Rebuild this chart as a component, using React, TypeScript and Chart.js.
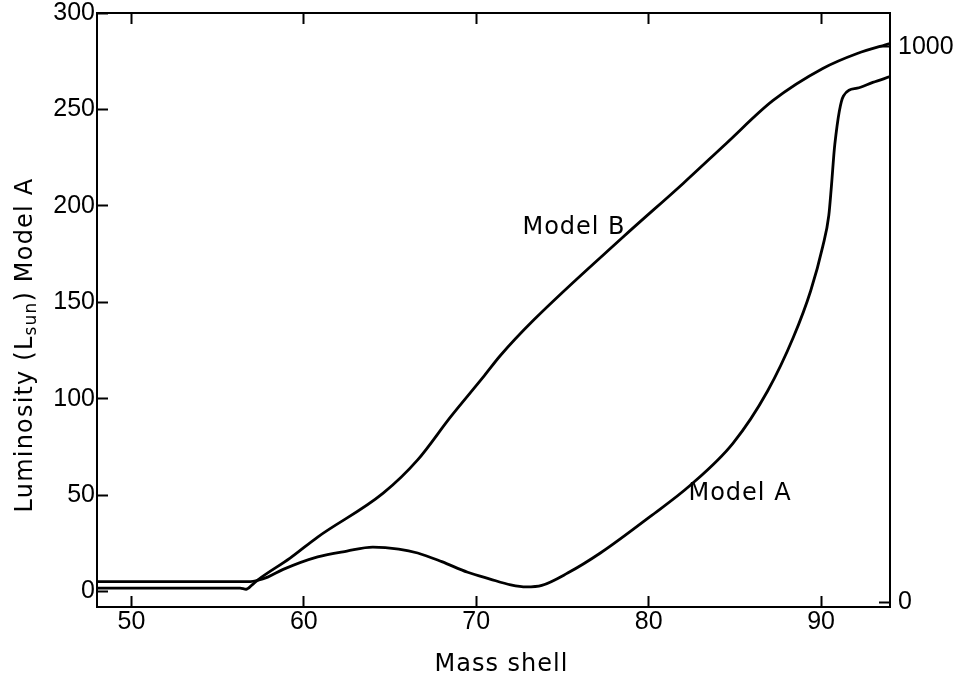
import React, { useEffect, useRef } from "react";
import { Chart, registerables } from "chart.js";

Chart.register(...registerables);

// ---- data ----
const X_TICKS = [50, 60, 70, 80, 90];
const Y_LEFT_TICKS = [0, 50, 100, 150, 200, 250, 300];
const Y_RIGHT_TICKS = [0, 1000];

const MODEL_A_X = [48, 56.9, 57.3, 57.9, 58.8, 60.8, 62.5, 64.0, 65.5, 66.6, 68.0, 69.5, 70.8, 72.0, 72.9, 73.8, 75.3, 77.2, 80.1, 82.4, 84.9, 86.9, 88.4, 89.4, 90.1, 90.45, 90.6, 90.8, 91.3, 92.1, 93.0, 94.0];
const MODEL_A_Y = [5.2, 5.2, 5.8, 7.5, 11.5, 18, 21, 23, 22, 20, 15.5, 10, 6.5, 3.5, 2.4, 3.2, 9.6, 20, 39, 55, 77, 104, 132, 156, 179, 195, 210, 232, 257, 261, 264, 267];

const MODEL_B_X = [48, 56.3, 56.65, 57.0, 57.34, 59.2, 60.8, 64.6, 66.6, 68.5, 70.4, 71.4, 73.3, 78.5, 82.0, 84.5, 87.2, 90.1, 92.1, 94.0];
const MODEL_B_Y = [25, 25, 23, 31, 40, 79, 117, 196, 256, 333, 405, 444, 507, 657, 754, 826, 903, 961, 988, 1006];

const X_TITLE = "Mass shell";
const Y_TITLE_PARTS = ["Luminosity (L", "sun", ") Model A"];
const LABEL_A = { text: "Model A", x: 85.3, y: 50.6 };
const LABEL_B = { text: "Model B", x: 75.67, y: 188.5 };

const TEXT_FONT = "DejaVu Sans";
const TICK_FONT = "Liberation Sans";

const textPlugin = {
  id: "texts",
  afterDraw(chart: any) {
    const ctx = chart.ctx as CanvasRenderingContext2D;
    const area = chart.chartArea;
    const xs = chart.scales.x;
    const ys = chart.scales.y;
    ctx.save();
    ctx.fillStyle = "#000";
    (ctx as any).letterSpacing = "1px";
    ctx.font = `24px "${TEXT_FONT}"`;
    ctx.textAlign = "center";
    ctx.textBaseline = "middle";
    for (const l of [LABEL_A, LABEL_B]) {
      ctx.fillText(l.text, xs.getPixelForValue(l.x), ys.getPixelForValue(l.y));
    }
    // x title
    ctx.fillText(X_TITLE, (area.left + area.right) / 2 + 8, area.bottom + 58);
    // y title (rotated, with subscript)
    (ctx as any).letterSpacing = "1.2px";
    ctx.translate(32, (area.top + area.bottom) / 2 + 35);
    ctx.rotate(-Math.PI / 2);
    ctx.textAlign = "left";
    ctx.textBaseline = "alphabetic";
    const mainFont = `24px "${TEXT_FONT}"`;
    const subFont = `17px "${TEXT_FONT}"`;
    ctx.font = mainFont;
    const w0 = ctx.measureText(Y_TITLE_PARTS[0]).width;
    const w2 = ctx.measureText(Y_TITLE_PARTS[2]).width;
    ctx.font = subFont;
    const w1 = ctx.measureText(Y_TITLE_PARTS[1]).width;
    let x = -(w0 + w1 + w2) / 2;
    ctx.font = mainFont;
    ctx.fillText(Y_TITLE_PARTS[0], x, 0);
    x += w0;
    ctx.font = subFont;
    ctx.fillText(Y_TITLE_PARTS[1], x, 4);
    x += w1;
    ctx.font = mainFont;
    ctx.fillText(Y_TITLE_PARTS[2], x, 0);
    ctx.restore();
  },
};

const zeroPad = (s: any) => {
  s.paddingTop = 0;
  s.paddingBottom = 0;
  s.paddingLeft = 0;
  s.paddingRight = 0;
};

export default function App() {
  const ref = useRef<HTMLCanvasElement | null>(null);
  useEffect(() => {
    document.body.style.margin = "0";
    const canvas = ref.current;
    if (!canvas) return;
    const tickFont = { family: TICK_FONT, size: 25 };
    const gridCommon = {
      display: true,
      drawOnChartArea: false,
      drawTicks: true,
      tickLength: -11,
      tickWidth: 2,
      tickColor: "#000",
    };
    const border = { display: true, color: "#000", width: 2 };
    const chart = new Chart(canvas, {
      type: "line",
      data: {
        datasets: [
          {
            label: "Model A",
            data: MODEL_A_X.map((x, i) => ({ x, y: MODEL_A_Y[i] })),
            yAxisID: "y",
            xAxisID: "x",
            borderColor: "#000",
            borderWidth: 2.8,
            pointRadius: 0,
            fill: false,
            cubicInterpolationMode: "monotone",
          },
          {
            label: "Model B",
            data: MODEL_B_X.map((x, i) => ({ x, y: MODEL_B_Y[i] })),
            yAxisID: "y1",
            xAxisID: "x",
            borderColor: "#000",
            borderWidth: 2.8,
            pointRadius: 0,
            fill: false,
            cubicInterpolationMode: "monotone",
          },
        ],
      },
      options: {
        animation: false,
        responsive: false,
        layout: { padding: 0 },
        plugins: { legend: { display: false }, tooltip: { enabled: false }, title: { display: false } },
        scales: {
          x: {
            type: "linear",
            position: "bottom",
            min: 48,
            max: 94,
            afterBuildTicks: (s: any) => { s.ticks = X_TICKS.map((v) => ({ value: v })); },
            afterFit: (s: any) => { s.height = 73; zeroPad(s); },
            ticks: { font: tickFont, color: "#000", padding: 11, maxRotation: 0, callback: (v: any) => String(v) },
            grid: gridCommon,
            border,
          },
          x2: {
            type: "linear",
            position: "top",
            min: 48,
            max: 94,
            afterBuildTicks: (s: any) => { s.ticks = X_TICKS.map((v) => ({ value: v })); },
            afterFit: (s: any) => { s.height = 13; zeroPad(s); },
            ticks: { display: false },
            grid: gridCommon,
            border,
          },
          y: {
            type: "linear",
            position: "left",
            min: -8,
            max: 300,
            afterBuildTicks: (s: any) => { s.ticks = Y_LEFT_TICKS.map((v) => ({ value: v })); },
            afterFit: (s: any) => { s.width = 97; zeroPad(s); },
            ticks: { font: tickFont, color: "#000", padding: 13, callback: (v: any) => String(v) },
            grid: gridCommon,
            border,
          },
          y1: {
            type: "linear",
            position: "right",
            min: -9,
            max: 1061,
            afterBuildTicks: (s: any) => { s.ticks = Y_RIGHT_TICKS.map((v) => ({ value: v })); },
            afterFit: (s: any) => { s.width = 63; zeroPad(s); },
            ticks: { font: tickFont, color: "#000", padding: 19, callback: (v: any) => String(v) },
            grid: gridCommon,
            border,
          },
        },
      } as any,
      plugins: [textPlugin],
    });
    return () => chart.destroy();
  }, []);
  return (
    <div style={{ width: 953, height: 680, background: "#fff" }}>
      <canvas ref={ref} width={953} height={680} style={{ display: "block" }} />
    </div>
  );
}
